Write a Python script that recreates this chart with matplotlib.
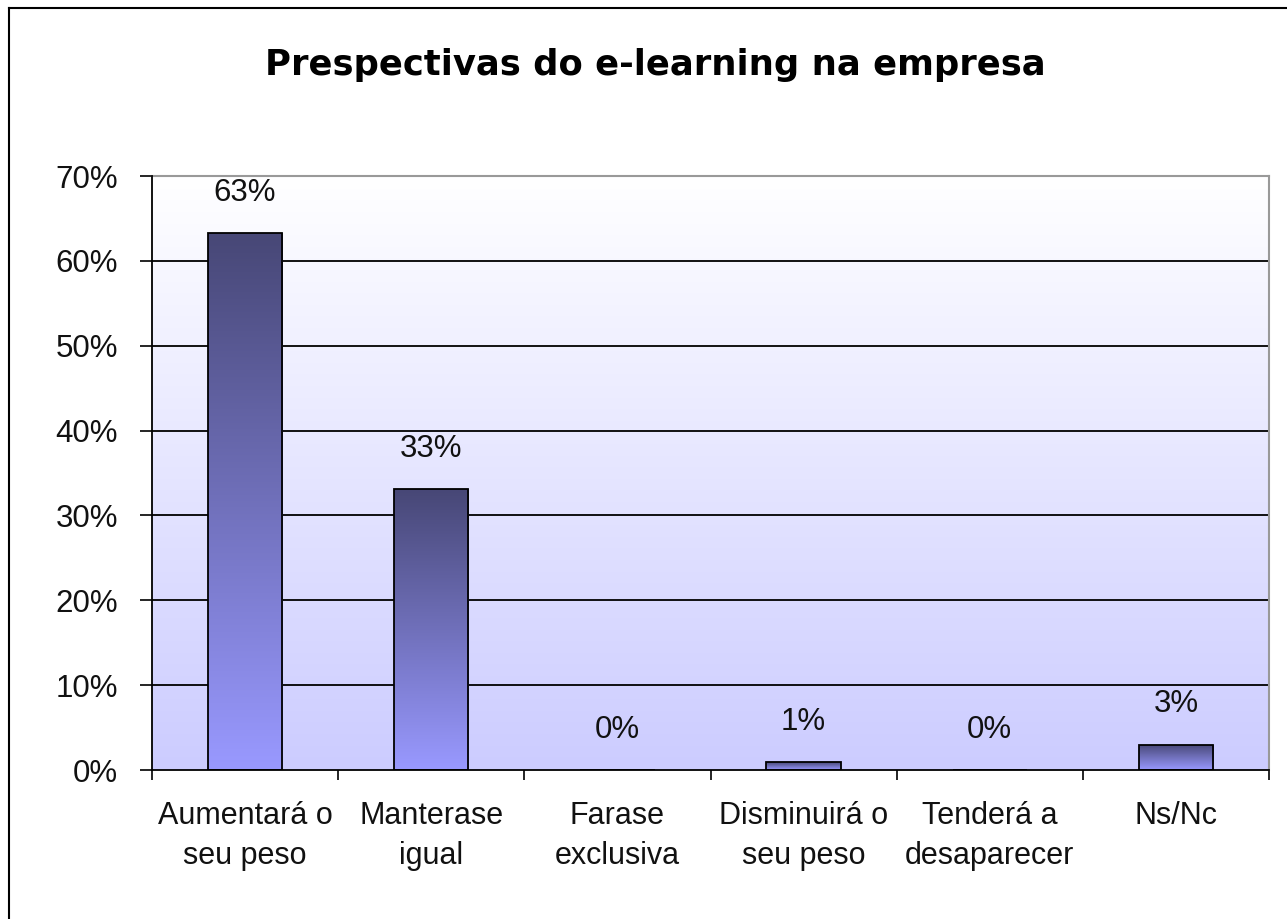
import matplotlib
matplotlib.use("Agg")
import matplotlib.pyplot as plt
import numpy as np
from matplotlib.colors import LinearSegmentedColormap
from matplotlib.lines import Line2D

# datos
categorias = ["Aumentará o\nseu peso", "Manterase\nigual", "Farase\nexclusiva",
              "Disminuirá o\nseu peso", "Tenderá a\ndesaparecer", "Ns/Nc"]
valores = [63.3, 33.1, 0.0, 0.9, 0.0, 3.0]
etiquetas = ["63%", "33%", "0%", "1%", "0%", "3%"]
yticks = [0, 10, 20, 30, 40, 50, 60, 70]
titulo = "Prespectivas do e-learning na empresa"

plt.rcParams['font.family'] = ['Liberation Sans', 'DejaVu Sans']

fig = plt.figure(figsize=(12.87, 9.19), dpi=100)
ax = fig.add_axes([152/1287, 1-770/919, (1269-152)/1287, (770-176)/919])

# fondo degradado (blanco arriba, lavanda abajo)
fondo_cmap = LinearSegmentedColormap.from_list("fondo", ["#ccccff", "#ffffff"])
grad = np.linspace(0, 1, 256).reshape(-1, 1)
ax.imshow(grad, extent=[0, 1, 0, 1], transform=ax.transAxes, origin='lower',
          cmap=fondo_cmap, aspect='auto', zorder=0)

x = np.arange(len(categorias))
ancho = 0.4

# lineas de la rejilla
for t in yticks[1:-1]:
    ax.axhline(t, color='black', linewidth=1.3, zorder=1)

barras = ax.bar(x, valores, width=ancho, facecolor='none', edgecolor='black',
                linewidth=1.3, zorder=3)

barra_cmap = LinearSegmentedColormap.from_list("barra", ["#9999ff", "#474776"])
for b in barras:
    h = b.get_height()
    if h <= 0:
        continue
    x0 = b.get_x()
    im = ax.imshow(grad, extent=[x0, x0 + b.get_width(), 0, h], origin='lower',
                   cmap=barra_cmap, aspect='auto', zorder=2.5)
    im.set_clip_path(b)

for xi, v, et in zip(x, valores, etiquetas):
    ax.annotate(et, (xi, v), xytext=(0, 29), textcoords='offset points',
                ha='center', va='center', fontsize=22.5, color='#111111')

ax.set_xlim(-0.5, len(categorias) - 0.5)
ax.set_ylim(0, 70)
ax.set_yticks(yticks)
ax.set_yticklabels([str(t) + "%" for t in yticks], fontsize=22.5, color='#111111')
ax.tick_params(axis='y', direction='out', length=8.5, width=1.2, pad=16)

ax.set_xticks(x)
ax.set_xticklabels(categorias, fontsize=22, color='#111111', linespacing=1.45)
ax.set_xticks(np.arange(len(categorias) + 1) - 0.5, minor=True)
ax.tick_params(axis='x', which='major', length=0, pad=22)
ax.tick_params(axis='x', which='minor', direction='out', length=7, width=1.2)

for lado in ['top', 'right']:
    ax.spines[lado].set_color('#999999')
    ax.spines[lado].set_linewidth(1.5)
for lado in ['left', 'bottom']:
    ax.spines[lado].set_color('black')
    ax.spines[lado].set_linewidth(1.3)
    ax.spines[lado].set_zorder(4)

fig.text(655/1287, 1-65/919, titulo, ha='center', va='center', fontsize=25.5,
         fontweight='bold', family='DejaVu Sans')

# marco de la figura (solo arriba e izquierda visibles)
fig.add_artist(Line2D([9/1287, 9/1287], [0, 1-8/919], color='black', linewidth=1.5))
fig.add_artist(Line2D([9/1287, 1286/1287], [1-8/919, 1-8/919], color='black', linewidth=1.5))

fig.savefig("out.png", dpi=100)
